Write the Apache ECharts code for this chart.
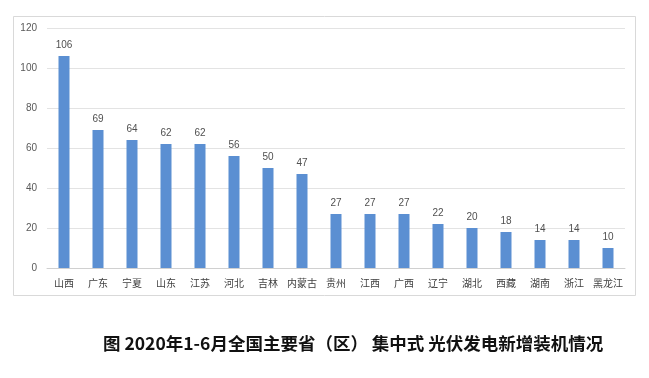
<!DOCTYPE html>
<html><head><meta charset="utf-8">
<script src="https://cdn.jsdelivr.net/npm/echarts@6/dist/echarts.min.js"></script>
<style>html,body{margin:0;padding:0;background:#fff}#c{width:649px;height:378px}</style>
</head><body><div id="c"></div>
<script>
const categories = ['山西','广东','宁夏','山东','江苏','河北','吉林','内蒙古','贵州','江西','广西','辽宁','湖北','西藏','湖南','浙江','黑龙江'];
const values = [106,69,64,62,62,56,50,47,27,27,27,22,20,18,14,14,10];
const yTicks = [0,20,40,60,80,100,120];
const title = '图 2020年1-6月全国主要省（区） 集中式 光伏发电新增装机情况';

const chart = echarts.init(document.getElementById('c'));
chart.setOption({
  backgroundColor: '#ffffff',
  animation: false,
  graphic: [
    {type:'rect', shape:{x:13.5,y:16.5,width:622,height:279}, style:{fill:'none', stroke:'#d9d9d9', lineWidth:1}, z:-1},
    {type:'text', left:103, top:335, style:{text:title, font:'bold 17.5px "Noto Sans CJK SC", sans-serif', fill:'#111'}}
  ],
  grid: {left:47, right:24, top:28, bottom:110, containLabel:false},
  xAxis: {
    type:'category', data:categories,
    axisLine:{lineStyle:{color:'#d0d0d0'}},
    axisTick:{show:false},
    axisLabel:{color:'#404040', fontSize:10, margin:10, interval:0, fontFamily:'"Noto Sans CJK SC", sans-serif'}
  },
  yAxis: {
    type:'value', min:yTicks[0], max:yTicks[yTicks.length-1], interval:20,
    axisLine:{show:false}, axisTick:{show:false},
    axisLabel:{color:'#595959', fontSize:10, margin:10, fontFamily:'"Liberation Sans", sans-serif'},
    splitLine:{lineStyle:{color:'#e3e3e3'}}
  },
  series: [{
    type:'bar', data:values, barWidth:11,
    itemStyle:{color:'#5b8fd2'},
    label:{show:true, position:'top', color:'#505050', fontSize:10, distance:6, fontFamily:'"Liberation Sans", sans-serif'}
  }]
});
</script></body></html>
